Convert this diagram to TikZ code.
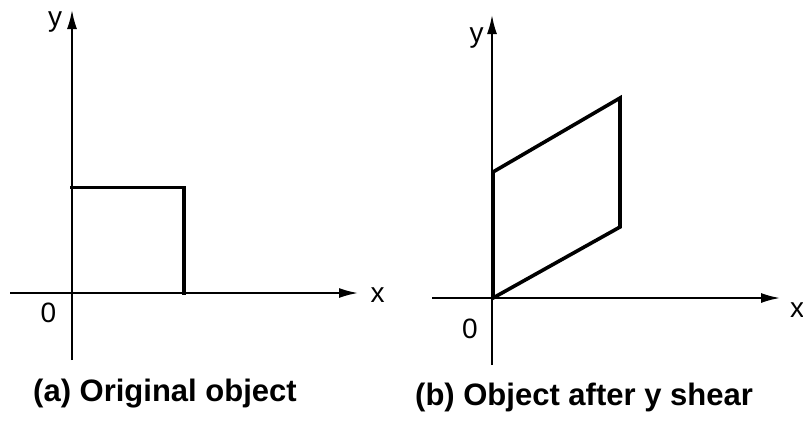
\documentclass[tikz,border=0pt]{standalone}
\usepackage{fontspec}
\setmainfont{Liberation Sans}
\usetikzlibrary{arrows.meta}
\tikzset{
  axis/.style={line width=1.8pt, -{Latex[length=19pt,width=10pt]}},
  objline/.style={line width=3.6pt, line join=miter, line cap=rect},
  axlabel/.style={anchor=base, inner sep=0pt, font=\fontsize{28}{32}\selectfont},
  caption/.style={anchor=base west, inner sep=0pt, font=\fontsize{31}{36}\selectfont\bfseries}
}
\begin{document}
\begin{tikzpicture}[x=1pt,y=-1pt]
\useasboundingbox (0,0) rectangle (803,421);
% ---------- (a) ----------
\coordinate (ayb) at (72,360);
\coordinate (ayt) at (72,10);
\coordinate (axl) at (10,293);
\coordinate (axr) at (358,293);
\coordinate (ao) at (72,293);
\coordinate (atl) at (72,187.5);
\coordinate (atr) at (184,187.5);
\coordinate (abr) at (184,293);
\draw[axis] (ayb) -- (ayt);
\draw[axis] (axl) -- (axr);
\draw[objline] (atl) -- (atr) -- (abr);
\node[axlabel] (aylab) at (55,26) {y};
\node[axlabel] (aolab) at (48.5,322) {0};
\node[axlabel] (axlab) at (377.5,302) {x};
\node[caption] (acap) at (33,401) {(a) Original object};
% ---------- (b) ----------
\coordinate (byb) at (492,365);
\coordinate (byt) at (492,15);
\coordinate (bxl) at (432,298);
\coordinate (bxr) at (780,298);
\coordinate (bo) at (493,298);
\coordinate (btl) at (493,172);
\coordinate (btr) at (620,98);
\coordinate (bbr) at (620,227);
\draw[axis] (byb) -- (byt);
\draw[axis] (bxl) -- (bxr);
\draw[objline] (bo) -- (btl) -- (btr) -- (bbr) -- cycle;
\node[axlabel] (bylab) at (476.5,42) {y};
\node[axlabel] (bolab) at (470,338) {0};
\node[axlabel] (bxlab) at (797,317) {x};
\node[caption] (bcap) at (415,405) {(b) Object after y shear};
\end{tikzpicture}
\end{document}
